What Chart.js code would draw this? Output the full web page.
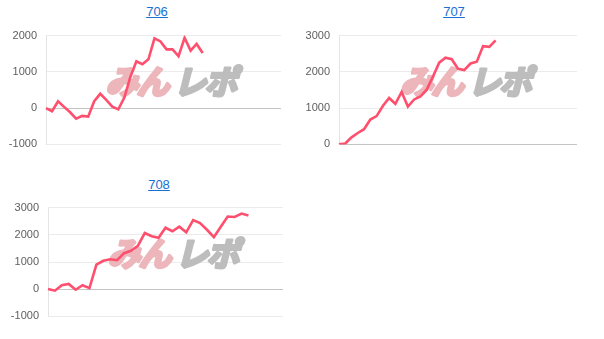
<!DOCTYPE html>
<html>
<head>
<meta charset="utf-8">
<script src="https://cdn.jsdelivr.net/npm/chart.js@4.4.1/dist/chart.umd.min.js"></script>
<style>
  html, body { margin: 0; padding: 0; background: #ffffff; }
  body { width: 604px; height: 339px; position: relative; overflow: hidden; font-family: "Liberation Sans", Arial, sans-serif; }
  .ttl { position: absolute; font-size: 13px; line-height: 15px; color: #1a6fd2; text-decoration: underline; transform: translateX(-50%); white-space: nowrap; }
  .box { position: absolute; }
</style>
</head>
<body>
<div class="ttl" id="t706" style="left:157px; top:4px;"></div>
<div class="ttl" id="t707" style="left:454px; top:4px;"></div>
<div class="ttl" id="t708" style="left:159px; top:177px;"></div>
<div class="box" id="b706"><canvas id="c706"></canvas></div>
<div class="box" id="b707"><canvas id="c707"></canvas></div>
<div class="box" id="b708"><canvas id="c708"></canvas></div>
<script>
// ---- data ----
const titles = ["706", "707", "708"];
const labels706 = ["1","2","3","4","5","6","7","8","9","10","11","12","13","14","15","16","17","18","19","20","21","22","23","24","25","26","27","28","29","30","31","32","33","34","35","36","37","38","39","40"];
const labels707 = ["1","2","3","4","5","6","7","8","9","10","11","12","13","14","15","16","17","18","19","20","21","22","23","24","25","26","27","28","29","30","31","32","33","34","35","36","37","38","39"];
const labels708 = ["1","2","3","4","5","6","7","8","9","10","11","12","13","14","15","16","17","18","19","20","21","22","23","24","25","26","27","28","29","30","31","32","33","34","35"];
const values706 = [0, -85, 190, 35, -115, -290, -215, -235, 190, 395, 230, 40, -35, 290, 860, 1290, 1210, 1345, 1925, 1840, 1620, 1620, 1430, 1940, 1585, 1770, 1520];
const values707 = [0, 25, 195, 315, 420, 685, 780, 1060, 1280, 1120, 1445, 1045, 1240, 1325, 1510, 1870, 2255, 2390, 2350, 2085, 2050, 2230, 2280, 2710, 2690, 2870];
const values708 = [10, -55, 145, 195, -20, 145, 40, 900, 1045, 1100, 1065, 1325, 1415, 1595, 2065, 1950, 1890, 2260, 2130, 2300, 2090, 2540, 2430, 2185, 1915, 2295, 2670, 2655, 2780, 2710];
const yTicks706 = [-1000, 0, 1000, 2000];
const yTicks707 = [0, 1000, 2000, 3000];
const yTicks708 = [-1000, 0, 1000, 2000, 3000];
const watermarkA = "みん";
const watermarkB = "レポ";

document.getElementById("t706").textContent = titles[0];
document.getElementById("t707").textContent = titles[1];
document.getElementById("t708").textContent = titles[2];

const watermarkPlugin = {
  id: "wm",
  beforeDatasetsDraw(chart) {
    const a = chart.chartArea;
    const ctx = chart.ctx;
    const cx = (a.left + a.right) / 2 + 6;
    const cy = (a.top + a.bottom) / 2 - 9;
    ctx.save();
    ctx.font = 'italic bold 33px "Noto Sans CJK JP", sans-serif';
    try { ctx.letterSpacing = "-2px"; } catch (e) {}
    ctx.textBaseline = "middle";
    ctx.lineJoin = "round";
    ctx.lineWidth = 3;
    ctx.textAlign = "right";
    ctx.fillStyle = "#ecb6bb";
    ctx.strokeStyle = "#ecb6bb";
    ctx.strokeText(watermarkA, cx - 2, cy);
    ctx.fillText(watermarkA, cx - 2, cy);
    ctx.textAlign = "left";
    ctx.fillStyle = "#bdbdbd";
    ctx.strokeStyle = "#bdbdbd";
    ctx.strokeText(watermarkB, cx + 4, cy);
    ctx.fillText(watermarkB, cx + 4, cy);
    ctx.restore();
  }
};

function makeChart(id, box, area, labels, values, ticks) {
  const b = document.getElementById("b" + id);
  b.style.left = box.left + "px";
  b.style.top = box.top + "px";
  b.style.width = box.width + "px";
  b.style.height = box.height + "px";
  const yW = area.left - box.left;
  const padTop = area.top - box.top;
  const padBottom = (box.top + box.height) - area.bottom;
  const padRight = (box.left + box.width) - area.right;
  return new Chart(document.getElementById("c" + id), {
    type: "line",
    data: {
      labels: labels,
      datasets: [{
        data: values,
        borderColor: "#ff4f6e",
        borderWidth: 2.6,
        pointRadius: 0,
        tension: 0,
        fill: false
      }]
    },
    options: {
      responsive: true,
      maintainAspectRatio: false,
      animation: false,
      layout: { padding: { left: 0, top: padTop, bottom: padBottom, right: padRight } },
      plugins: { legend: { display: false }, tooltip: { enabled: false }, title: { display: false } },
      scales: {
        x: { display: false },
        y: {
          min: ticks[0],
          max: ticks[ticks.length - 1],
          afterFit(scale) { scale.width = yW; },
          afterBuildTicks(scale) { scale.ticks = ticks.map(v => ({ value: v })); },
          grid: {
            drawTicks: false,
            color: (c) => (c.tick && c.tick.value === 0) ? "#c4c4c4" : "#ebebeb",
            lineWidth: 1
          },
          border: { display: true, color: "#e4e4e4" },
          ticks: {
            padding: 9,
            color: "#5e5e5e",
            callback: (v) => String(v),
            font: { family: '"Liberation Sans", Arial, sans-serif', size: 11 }
          }
        }
      }
    },
    plugins: [watermarkPlugin]
  });
}

makeChart("706", { left: 0, top: 20, width: 300, height: 140 }, { left: 46, top: 28, right: 281, bottom: 146 }, labels706, values706, yTicks706);
makeChart("707", { left: 300, top: 20, width: 304, height: 140 }, { left: 339, top: 29, right: 577, bottom: 146 }, labels707, values707, yTicks707);
makeChart("708", { left: 0, top: 192, width: 300, height: 140 }, { left: 48, top: 200, right: 283, bottom: 319 }, labels708, values708, yTicks708);
</script>
</body>
</html>
